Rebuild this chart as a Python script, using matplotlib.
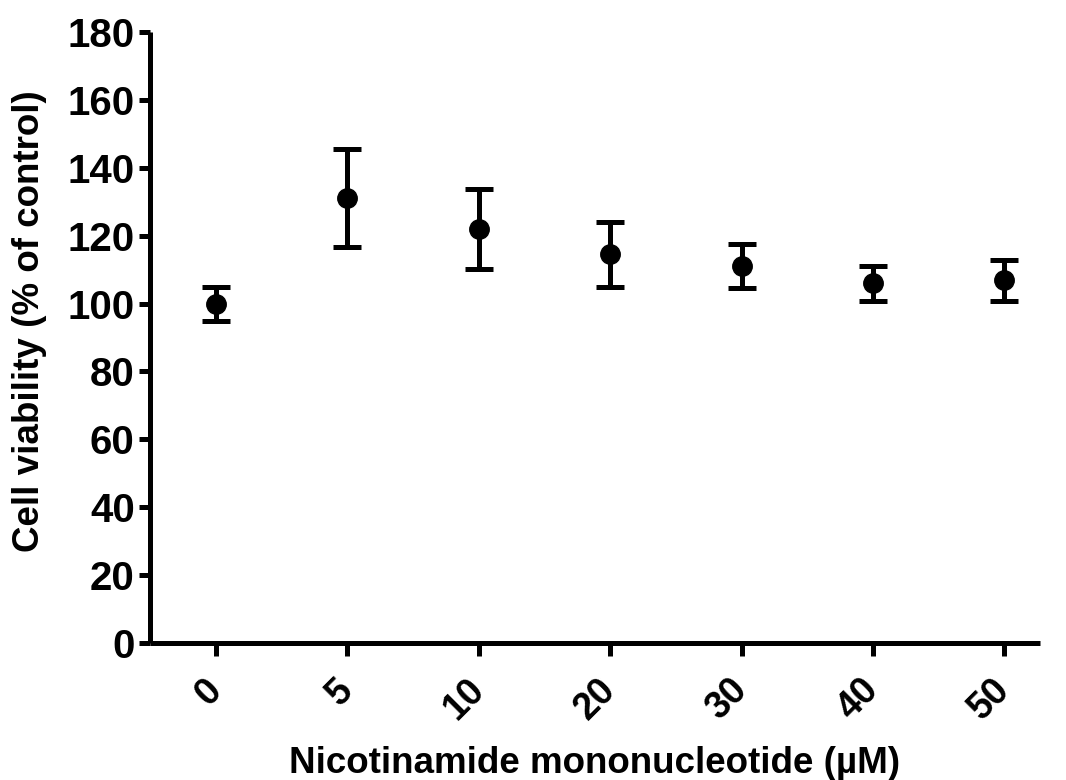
import matplotlib
matplotlib.use("Agg")
import matplotlib.pyplot as plt
import numpy as np

categories = ["0", "5", "10", "20", "30", "40", "50"]
viability = [100.0, 131.0, 122.0, 114.5, 111.0, 106.0, 106.8]
errors = [5.0, 14.4, 11.8, 9.6, 6.4, 5.2, 6.0]

plt.rcParams['font.family'] = ['Liberation Sans', 'DejaVu Sans']
plt.rcParams['font.weight'] = 'bold'

fig = plt.figure(figsize=(10.66, 7.80), dpi=100)
ax = fig.add_axes([0.1407, 0.1756, 0.9756 - 0.1407, 0.959 - 0.1756])

x = np.arange(len(categories))
ax.errorbar(x, viability, yerr=errors, fmt='o', color='black', ecolor='black',
            markersize=14, elinewidth=3.6, capsize=10, capthick=3.6,
            solid_capstyle='round', dash_capstyle='round')

ax.set_xlim(-0.5, 6.27)
ax.set_ylim(0, 180)
ax.set_yticks(np.arange(0, 181, 20))
ax.set_xticks(x)
ax.set_xticklabels(categories, rotation=45, ha='right', va='center', rotation_mode='anchor')

for s in ['top', 'right']:
    ax.spines[s].set_visible(False)
for s in ['left', 'bottom']:
    ax.spines[s].set_linewidth(3.6)
    ax.spines[s].set_capstyle('butt')

ax.tick_params(axis='y', length=8, width=3.6, labelsize=29, pad=3)
ax.tick_params(axis='x', length=9, width=3.6, labelsize=27, pad=21)
for lbl in ax.get_xticklabels() + ax.get_yticklabels():
    lbl.set_fontweight('bold')

ax.set_ylabel("Cell viability (% of control)", fontsize=26.5, fontweight='bold')
ax.yaxis.set_label_coords(-0.116, 0.527)
ax.set_xlabel("Nicotinamide mononucleotide (\u00b5M)", fontsize=26.5, fontweight='bold', labelpad=14)

fig.savefig("out.png", dpi=100, facecolor='white')
